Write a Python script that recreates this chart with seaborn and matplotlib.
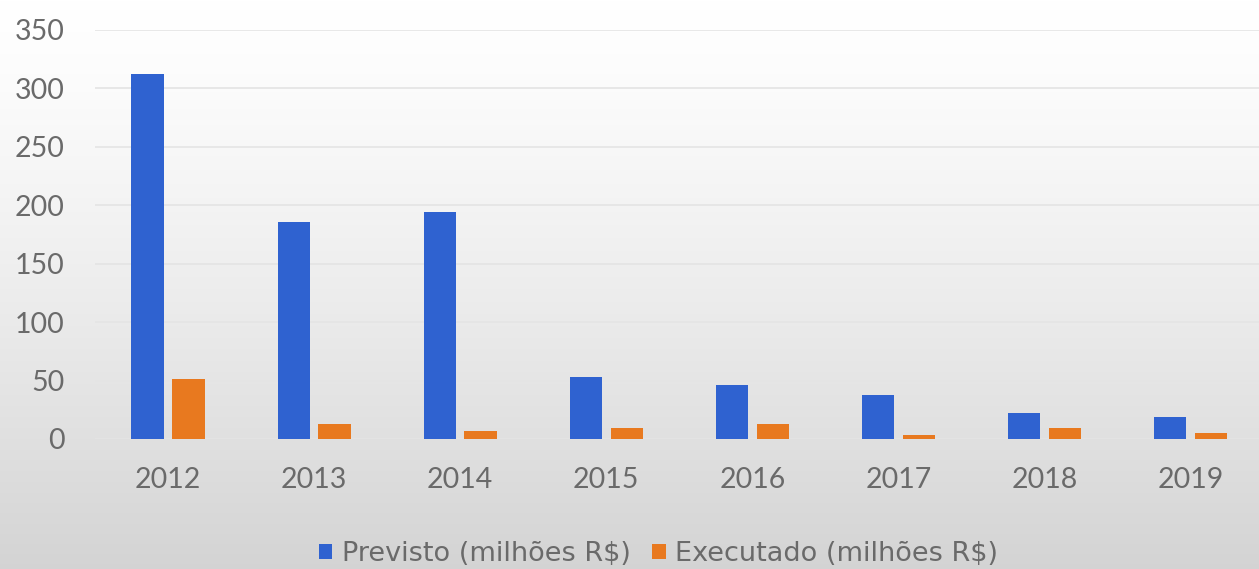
import numpy as np
import pandas as pd
import matplotlib
matplotlib.use("Agg")
import matplotlib.pyplot as plt
import seaborn as sns

years = ["2012", "2013", "2014", "2015", "2016", "2017", "2018", "2019"]
previsto = [312, 186, 194, 53, 46, 38, 22, 19]
executado = [51, 13, 7, 9, 13, 3, 9, 5]
series_names = ["Previsto (milhões R$)", "Executado (milhões R$)"]
y_ticks = [0, 50, 100, 150, 200, 250, 300, 350]

df = pd.DataFrame({
    "ano": years * 2,
    "valor": previsto + executado,
    "serie": [series_names[0]] * len(years) + [series_names[1]] * len(years),
})

sns.set_theme(style="white")
plt.rcParams["font.family"] = ["Lato", "DejaVu Sans"]

fig = plt.figure(figsize=(12.59, 5.69), dpi=100)

# background gradient
bg = fig.add_axes([0, 0, 1, 1], zorder=0)
t = np.linspace(0, 1, 256)
grad = 1.0 - 0.17 * t ** 1.3
img = np.repeat(grad[:, None], 2, axis=1)
bg.imshow(np.dstack([img, img, img]), aspect="auto", extent=[0, 1, 0, 1], origin="upper")
bg.set_axis_off()

ax = fig.add_axes([0.0755, 0.2285, 0.928, 0.7188], zorder=1)
ax.patch.set_alpha(0)

palette = ["#2f62d0", "#e8791f"]
sns.barplot(data=df, x="ano", y="valor", hue="serie", palette=palette,
            width=0.56, gap=0.21, ax=ax, saturation=1, legend=True, linewidth=0)

ax.set_ylim(0, 350)
ax.set_xlim(-0.5, 7.5)
ax.set_yticks(y_ticks)
ax.set_yticklabels([str(t) for t in y_ticks])
ax.yaxis.grid(True, color="#e4e4e4", linewidth=1.2)
ax.set_axisbelow(True)
for s in ax.spines.values():
    s.set_visible(False)
ax.set_xlabel("")
ax.set_ylabel("")
ax.tick_params(axis="both", length=0, labelsize=20.5, colors="#6a6a6a")
ax.tick_params(axis="y", pad=22)
ax.tick_params(axis="x", pad=20)

handles, labels = ax.get_legend_handles_labels()
ax.legend_.remove()
fig.legend(handles, labels, loc="center", bbox_to_anchor=(0.523, 0.026), ncol=2,
           frameon=False, labelcolor="#6a6a6a", handlelength=0.5,
           handleheight=0.5, handletextpad=0.35, columnspacing=0.8,
           prop={"family": ["DejaVu Sans"], "size": 19.5})

fig.savefig("out.png", dpi=100)
